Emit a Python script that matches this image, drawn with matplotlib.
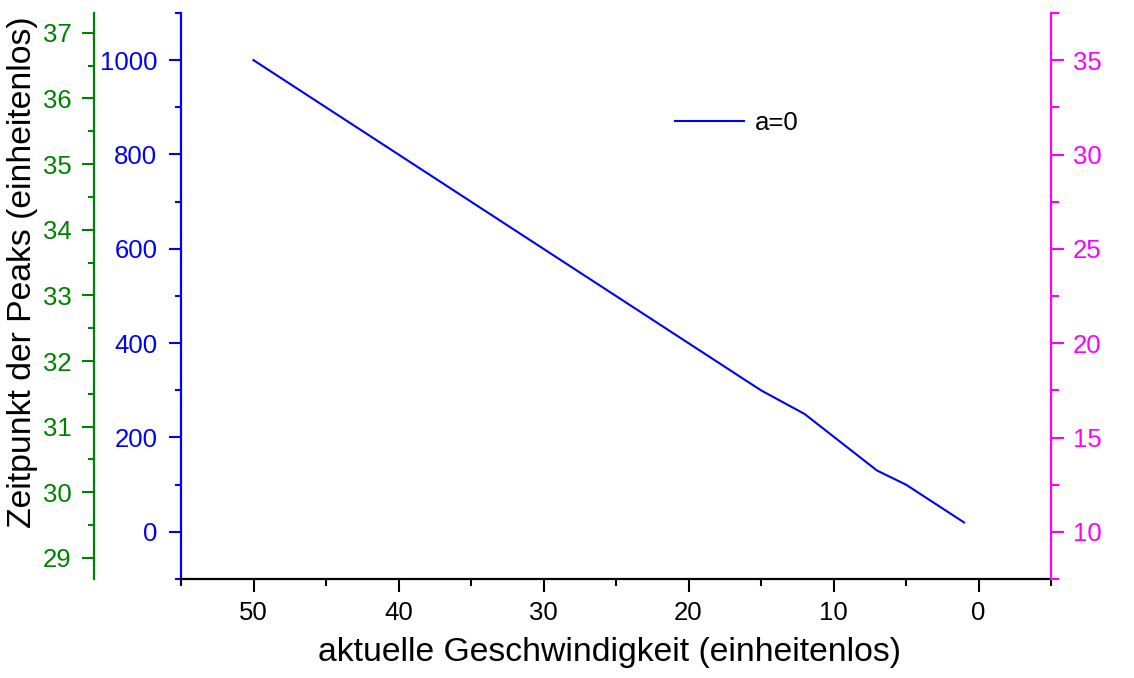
import matplotlib
matplotlib.use("Agg")
import matplotlib.pyplot as plt
from matplotlib.ticker import MultipleLocator

plt.rcParams['font.family'] = ['Liberation Sans', 'DejaVu Sans']

# data
speed = [50, 40, 30, 20, 15, 12, 7, 5, 1]
peak_time = [1000, 800, 600, 400, 300, 250, 130, 100, 20]
series_label = "a=0"

x_ticks = [50, 40, 30, 20, 10, 0]
blue_ticks = [0, 200, 400, 600, 800, 1000]
green_ticks = [29, 30, 31, 32, 33, 34, 35, 36, 37]
pink_ticks = [10, 15, 20, 25, 30, 35]

W, H = 1134, 678
fig = plt.figure(figsize=(W/100, H/100), dpi=100)
L, R, T, B = 181, 1051, 13, 579
ax = fig.add_axes([L/W, 1 - B/H, (R-L)/W, (B-T)/H])

BLUE = '#0000FF'
GREEN = '#008000'
PINK = '#FF00FF'
FS = 18.5
LFS = 24.3

line, = ax.plot(speed, peak_time, color=BLUE, lw=1.5, label=series_label)
ax.set_xlim(55, -5)
ax.set_ylim(-100, 1100)
ax.set_xticks(x_ticks)
ax.xaxis.set_minor_locator(MultipleLocator(5))
ax.set_yticks(blue_ticks)
ax.yaxis.set_minor_locator(MultipleLocator(100))

for s in ['top', 'right']:
    ax.spines[s].set_visible(False)
ax.spines['left'].set_color(BLUE)
ax.spines['left'].set_linewidth(1.6)
ax.spines['bottom'].set_color('black')
ax.spines['bottom'].set_linewidth(1.6)
ax.tick_params(axis='x', which='major', length=9, width=1.5, pad=7, labelsize=FS, colors='black')
ax.tick_params(axis='x', which='minor', length=5, width=1.5)
ax.tick_params(axis='y', which='major', length=9, width=1.5, pad=8, labelsize=FS, colors=BLUE)
ax.tick_params(axis='y', which='minor', length=4.5, width=1.5, colors=BLUE)

# pink right axis
ax2 = ax.twinx()
ax2.set_ylim(7.5, 37.5)
ax2.set_yticks(pink_ticks)
ax2.yaxis.set_minor_locator(MultipleLocator(2.5))
for s in ['top', 'left', 'bottom']:
    ax2.spines[s].set_visible(False)
ax2.spines['right'].set_color(PINK)
ax2.spines['right'].set_linewidth(1.6)
ax2.tick_params(axis='y', which='major', length=9.5, width=1.5, pad=6.5, labelsize=FS, colors=PINK)
ax2.tick_params(axis='y', which='minor', length=6, width=1.5, colors=PINK)

# green far-left axis
ax3 = ax.twinx()
ax3.set_ylim(28.68, 37.3)
ax3.set_yticks(green_ticks)
ax3.yaxis.set_minor_locator(MultipleLocator(0.5))
for s in ['top', 'right', 'bottom']:
    ax3.spines[s].set_visible(False)
ax3.spines['left'].set_visible(True)
ax3.spines['left'].set_position(('outward', 62.6))
ax3.spines['left'].set_color(GREEN)
ax3.spines['left'].set_linewidth(1.6)
ax3.yaxis.set_ticks_position('left')
ax3.yaxis.set_label_position('left')
ax3.tick_params(axis='y', which='major', length=9, width=1.5, pad=7, labelsize=FS, colors=GREEN)
ax3.tick_params(axis='y', which='minor', length=4.5, width=1.5, colors=GREEN)

fig.text(610/W, 1 - 652/H, "aktuelle Geschwindigkeit (einheitenlos)", ha='center', va='center',
         fontsize=LFS, color='black')
fig.text(23/W, 1 - 272/H, "Zeitpunkt der Peaks (einheitenlos)", ha='center', va='center',
         rotation=90, fontsize=LFS, color='black')

fig.legend(handles=[line], loc='center left', bbox_to_anchor=(675/W, 1 - 123/H),
           frameon=False, fontsize=FS, handlelength=2.7, handletextpad=0.4, borderpad=0,
           borderaxespad=0)

fig.savefig("out.png", dpi=100)
